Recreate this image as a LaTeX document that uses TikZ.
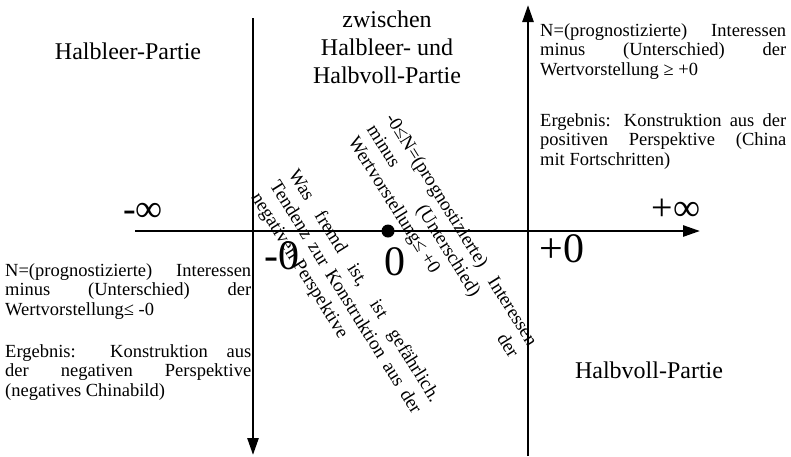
\documentclass[tikz,border=0pt]{standalone}
\usepackage{fontspec}
\setmainfont{Liberation Serif}
\usetikzlibrary{arrows.meta}

\begin{document}
\begin{tikzpicture}[
  x=1pt, y=-1pt,
  every node/.style={inner sep=0pt},
  achse/.style={line width=2.6pt, -{Triangle[length=17pt,width=11pt]}},
  region/.style={font=\fontsize{24}{28}\selectfont, align=center},
  nullmark/.style={font=\fontsize{42}{46}\selectfont},
  infmark/.style={font=\fontsize{38}{42}\selectfont},
  block/.style={font=\fontsize{18.5}{19.5}\selectfont, text width=246pt,
                align=justify, anchor=base west},
  slanted/.style={font=\fontsize{19}{22}\selectfont, text width=270pt,
                  align=justify, anchor=base west, rotate=-58},
  dot/.style={circle, fill=black, minimum size=13pt}
]
  \useasboundingbox (0,0) rectangle (791,456);

  % Bereiche
  \node[region, anchor=base] (leer)  at (128,59)  {Halbleer-Partie};
  \node[region, anchor=base] (mitte) at (387,83)  {zwischen\\Halbleer- und\\Halbvoll-Partie};
  \node[region, anchor=base] (voll)  at (649,378) {Halbvoll-Partie};

  % Texte
  \node[block] (pos1) at (540,36)
    {N=(prognostizierte) Interessen\linebreak minus (Unterschied) der\linebreak Wertvorstellung ≥ +0};
  \node[block] (pos2) at (540,126)
    {Ergebnis: Konstruktion aus der\linebreak positiven Perspektive (China\linebreak mit Fortschritten)};
  \node[block] (neg1) at (5,276)
    {N=(prognostizierte) Interessen\linebreak minus (Unterschied) der\linebreak Wertvorstellung≤ -0};
  \node[block] (neg2) at (5,357)
    {Ergebnis: Konstruktion aus\linebreak der negativen Perspektive\linebreak (negatives Chinabild)};

  \node[slanted] (zwisch) at (385,118)
    {-0≤N=(prognostizierte) Interessen\linebreak minus (Unterschied) der\linebreak Wertvorstellung≤ +0};
  \node[slanted] (fremd) at (288,174)
    {Was fremd ist, ist gefährlich.\linebreak Tendenz zur Konstruktion aus der\linebreak negativen Perspektive};

  % Achsen
  \coordinate (xl) at (135,231);
  \coordinate (xr) at (700,231);
  \coordinate (lo) at (253,18);
  \coordinate (lu) at (253,455);
  \coordinate (ru) at (528,456);
  \coordinate (ro) at (528,5);
  \draw[achse] (xl) -- (xr);
  \draw[achse] (lo) -- (lu);
  \draw[achse] (ru) -- (ro);

  \node[dot] (null) at (388,231) {};

  \node[infmark]  (minf)  at (143,212) {-∞};
  \node[infmark]  (pinf)  at (676,210) {+∞};
  \node[nullmark] (mnull) at (282,256) {-0};
  \node[nullmark] (nnull) at (395,262) {0};
  \node[nullmark] (pnull) at (562,249) {+0};
\end{tikzpicture}
\end{document}
